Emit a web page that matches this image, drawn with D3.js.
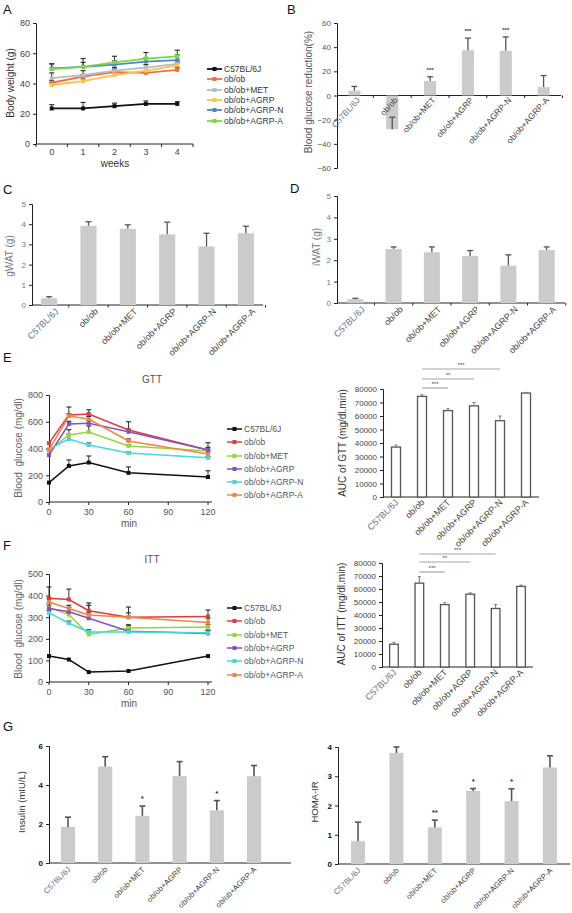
<!DOCTYPE html>
<html><head><meta charset="utf-8">
<script src="https://cdn.jsdelivr.net/npm/d3@7"></script>
<style>body{margin:0;background:#fff}svg{font-family:"Liberation Sans",Arial,sans-serif}</style>
</head><body><svg id="c" width="572" height="913"></svg>
<script>
// ---------- DATA ----------
const groups = ["C57BL/6J","ob/ob","ob/ob+MET","ob/ob+AGRP","ob/ob+AGRP-N","ob/ob+AGRP-A"];
// A: body weight
const weeks = [0,1,2,3,4];
const bwMean = [
  [23.5,23.5,25,26.5,26.5],
  [40.5,44.5,47.5,47,49],
  [43.5,45.5,48.5,50.5,53],
  [39,41.5,45.5,48.5,52],
  [50,51,52.5,54.5,55.5],
  [49.5,51,54,56.5,58]];
const bwErr = [
  [2.5,4,2,2,1.5],
  [1.5,1.5,2,1.5,1.5],
  [3.5,3,2,2,2],
  [1.5,1.5,2,2,1.5],
  [3,3,2.5,2.5,3.5],
  [3.5,5.5,4,4,4]];
// B: blood glucose reduction
const bgRed = [4,-28,12,37.5,37,7];
const bgRedErr = [3.5,10,3.5,10,11.5,9.5];
const bgRedSig = ["","","***","***","***",""];
// C, D
const gwat = [0.33,3.92,3.77,3.5,2.9,3.55];
const gwatErr = [0.08,0.2,0.2,0.6,0.65,0.35];
const iwat = [0.18,2.52,2.37,2.2,1.75,2.47];
const iwatErr = [0.04,0.1,0.25,0.25,0.5,0.15];
// E: GTT
const times = [0,15,30,60,120];
const gttMean = [
  [145,270,295,218,187],
  [440,650,658,538,389],
  [385,501,523,419,381],
  [351,583,588,525,389],
  [395,471,426,366,330],
  [389,643,620,456,359]];
const gttErr = [
  [0,44,49,44,47],
  [0,60,32,62,54],
  [0,40,45,10,10],
  [0,20,20,20,20],
  [0,35,15,10,10],
  [0,15,20,15,15]];
const gttAuc = [37000,74500,64000,67500,56500,77000];
const gttAucErr = [1500,1200,1500,2500,3500,500];
// F: ITT
const ittMean = [
  [120,104,46,51,120],
  [388,382,330,300,303],
  [345,312,220,250,255],
  [340,325,295,235,225],
  [320,272,232,232,228],
  [370,340,310,300,275]];
const ittErr = [
  [0,0,0,0,0],
  [52,48,36,47,30],
  [20,10,10,10,10],
  [15,20,60,30,15],
  [10,10,10,10,10],
  [15,15,10,20,20]];
const ittAuc = [17500,64500,48000,56000,45000,62000];
const ittAucErr = [1500,5000,1500,1000,3000,1000];
// significance brackets (from ob/ob to group)
const sigTargets = ["ob/ob+MET","ob/ob+AGRP","ob/ob+AGRP-N"];
const sigLabels = ["***","**","***"];
// G
const insulin = [1.85,4.95,2.42,4.45,2.7,4.45];
const insulinErr = [0.5,0.5,0.5,0.75,0.5,0.55];
const insulinSig = ["","","*","","*",""];
const homa = [0.78,3.8,1.25,2.5,2.15,3.3];
const homaErr = [0.65,0.2,0.25,0.08,0.42,0.4];
const homaSig = ["","","**","*","*",""];
// tick values
const bwTicks = [0,20,40,60,80];
const bgRedTicks = [-60,-40,-20,0,20,40,60];
const watTicks = [0,1,2,3,4,5];
const gttTicks = [0,200,400,600,800];
const ittTicks = [0,100,200,300,400,500];
const timeTicks = [0,30,60,90,120];
const aucTicks = [0,10000,20000,30000,40000,50000,60000,70000,80000];
const insTicks = [0,2,4,6];
const homaTicks = [0,1,2,3,4];

const colorsA = ["#111","#f0703c","#b4bcc4","#ffc24a","#4f86c6","#78d840"];
const colorsE = ["#111","#dc3c3c","#96d43c","#8450c4","#44d8dc","#f4843c"];

// ---------- HELPERS ----------
const svg = d3.select("#c");
function txt(x,y,s,o={}){
  const t = svg.append("text").attr("x",x).attr("y",y).text(s)
    .attr("font-size",o.size||9).attr("fill",o.fill||"#333")
    .attr("text-anchor",o.anchor||"start");
  if(o.rot!==undefined) t.attr("transform",`rotate(${o.rot},${x},${y})`);
  if(o.weight) t.attr("font-weight",o.weight);
  if(o.pre) t.style("white-space","pre");
  return t;
}
function yAxis(x,y,ticks,o={}){
  const g = svg.append("g").attr("transform",`translate(${x},0)`)
    .call(d3.axisLeft(y).tickValues(ticks).tickSize(3).tickPadding(o.pad||3).tickFormat(d3.format("d")));
  g.select(".domain").attr("stroke","#222");
  g.selectAll(".tick line").attr("stroke","#222");
  g.selectAll("text").attr("font-size",o.size||8.5).attr("fill",o.fill||"#444")
    .attr("font-family","Liberation Sans, Arial, sans-serif").attr("font-weight",o.weight||null);
  return g;
}
function lineChart(o){
  const x = d3.scaleLinear().domain(o.xDomain).range(o.xRange);
  const y = d3.scaleLinear().domain(o.yDomain).range(o.yRange);
  yAxis(o.xRange0 ?? x.range()[0], y, o.yTicks, {size:o.tickSize||9, fill:o.tickFill});
  const yb = y.range()[0];
  svg.append("line").attr("x1",o.axisX0).attr("x2",o.axisX1).attr("y1",yb).attr("y2",yb).attr("stroke","#222");
  o.xTickMarks.forEach(v=>svg.append("line").attr("x1",x(v)).attr("x2",x(v)).attr("y1",yb).attr("y2",yb+3).attr("stroke","#222"));
  o.xTicks.forEach(v=>txt(x(v),yb+(o.xLabOff||13),String(v),{size:o.tickSize||9,anchor:"middle",fill:o.tickFill||"#444"}));
  const line = d3.line().x((d,i)=>x(o.xs[i])).y(d=>y(d));
  o.means.forEach((m,si)=>{
    m.forEach((v,i)=>{
      const e=o.errs[si][i]; if(!e) return;
      const xx=x(o.xs[i]);
      svg.append("line").attr("x1",xx).attr("x2",xx).attr("y1",y(v)).attr("y2",y(v+e)).attr("stroke","#333").attr("stroke-width",1);
      svg.append("line").attr("x1",xx-2.5).attr("x2",xx+2.5).attr("y1",y(v+e)).attr("y2",y(v+e)).attr("stroke","#333").attr("stroke-width",1.2);
    });
  });
  o.means.forEach((m,si)=>{
    svg.append("path").attr("d",line(m)).attr("fill","none").attr("stroke",o.colors[si]).attr("stroke-width",o.lw||1.6);
    m.forEach((v,i)=>svg.append("rect").attr("x",x(o.xs[i])-2).attr("y",y(v)-2).attr("width",4).attr("height",4).attr("fill",o.colors[si]));
  });
  groups.forEach((gname,i)=>{
    const ly=o.legY[i];
    svg.append("line").attr("x1",o.legX).attr("x2",o.legX+15).attr("y1",ly).attr("y2",ly).attr("stroke",o.colors[i]).attr("stroke-width",o.lw||1.6);
    svg.append("rect").attr("x",o.legX+5.5).attr("y",ly-2).attr("width",4).attr("height",4).attr("fill",o.colors[i]);
    txt(o.legX+17,ly+3,gname,{size:8.5,fill:o.legFill||"#333"});
  });
  return {x,y};
}
function barChart(o){
  const x = d3.scaleBand().domain(groups).range(o.xRange).paddingInner(o.pi).paddingOuter(o.po);
  const y = d3.scaleLinear().domain(o.yDomain).range(o.yRange);
  yAxis(o.xRange[0], y, o.yTicks, {size:o.tickSize||8.5, fill:o.tickFill||"#555", weight:o.tickWeight});
  const y0 = y(0);
  svg.append("line").attr("x1",o.xRange[0]).attr("x2",o.axisEnd||o.xRange[1]).attr("y1",y0).attr("y2",y0).attr("stroke","#222");
  if(o.boundTicks){
    groups.forEach((gname,i)=>{ if(i===0) return;
      const bx = x(gname) - x.step()*x.paddingInner()/2;
      svg.append("line").attr("x1",bx).attr("x2",bx).attr("y1",y0).attr("y2",y0+2.5).attr("stroke","#222");
    });
    const bx = x(groups[5]) + x.bandwidth() + x.step()*x.paddingInner()/2;
    svg.append("line").attr("x1",bx).attr("x2",bx).attr("y1",y0).attr("y2",y0+2.5).attr("stroke","#222");
  }
  const bw = x.bandwidth();
  groups.forEach((gname,i)=>{
    const v=o.vals[i], e=o.errs[i], cx=x(gname)+bw/2;
    const top=Math.min(y(v),y0), h=Math.abs(y(v)-y0);
    if(o.outline){
      svg.append("rect").attr("x",x(gname)).attr("y",top).attr("width",bw).attr("height",h).attr("fill","#fff").attr("stroke","#555").attr("stroke-width",1.3);
    } else {
      svg.append("rect").attr("x",x(gname)).attr("y",top).attr("width",bw).attr("height",h).attr("fill",o.fill||"#c9ccc9");
    }
    const ec=o.errColor||"#555", cw=o.capW||3;
    svg.append("line").attr("x1",cx).attr("x2",cx).attr("y1",y(v)).attr("y2",y(v+e)).attr("stroke",ec).attr("stroke-width",o.errW||1.3);
    svg.append("line").attr("x1",cx-cw).attr("x2",cx+cw).attr("y1",y(v+e)).attr("y2",y(v+e)).attr("stroke",ec).attr("stroke-width",o.errW||1.3);
    if(o.sig && o.sig[i]) txt(cx,y(v+e)-5,o.sig[i],{size:o.sigSize||8,anchor:"middle",fill:"#333",weight:"bold"});
    const lx=cx+o.labDx, ly=y0+o.labDy;
    const t=txt(lx,ly,gname,{size:o.labSize||9,anchor:"end",rot:o.labRot||-45,fill:i===0?(o.firstFill||"#5f7387"):(o.labFill||"#444")});
    if(o.clip) t.attr("clip-path",`url(#${o.clip})`);
  });
  if(o.brackets){
    o.brackets.ys.forEach((yy,k)=>{
      const x1=x("ob/ob")+bw/2, x2=x(sigTargets[k])+bw/2;
      svg.append("line").attr("x1",x1).attr("x2",x2).attr("y1",yy).attr("y2",yy).attr("stroke","#9aa").attr("stroke-width",1.2);
      txt((x1+x2)/2,yy-2.5,sigLabels[k],{size:6,anchor:"middle",fill:"#444"});
    });
  }
  return {x,y};
}

const defs = svg.append("defs");
defs.append("clipPath").attr("id","clipCD").append("rect").attr("x",0).attr("y",0).attr("width",572).attr("height",351);

// ---------- PANEL LETTERS ----------
[["A",3,14],["B",287,14],["C",3,194],["D",290,193],["E",3,362],["F",3,550],["G",3,731]]
  .forEach(d=>txt(d[1],d[2],d[0],{size:13,fill:"#111"}));

// ---------- A ----------
lineChart({xDomain:[-0.5,4.5],xRange:[36,193],yDomain:[0,80],yRange:[144,23],yTicks:bwTicks,
  axisX0:36,axisX1:193,xTickMarks:[-0.5,0.5,1.5,2.5,3.5,4.5],xTicks:weeks,xs:weeks,xLabOff:11,
  means:bwMean,errs:bwErr,colors:colorsA,lw:1.8,legX:207,legY:[69,79,90,100,110,121],tickFill:"#444"});
txt(115,167,"weeks",{size:10,anchor:"middle",fill:"#333"});
txt(14,83,"Body weight (g)",{size:10,anchor:"middle",rot:-90,fill:"#333"});

// ---------- B ----------
barChart({xRange:[337,561],pi:0.68,po:0.3,yDomain:[-60,60],yRange:[168,23],yTicks:bgRedTicks,
  vals:bgRed,errs:bgRedErr,sig:bgRedSig,labDx:6,labDy:5,labRot:-48,labSize:8.5,boundTicks:true,sigSize:6,tickSize:8});
txt(312,92,"Blood glucose reduction(%)",{size:10,anchor:"middle",rot:-90,fill:"#555"});

// ---------- C ----------
barChart({xRange:[32,263],pi:0.59,po:0.23,yDomain:[0,5],yRange:[305,204],yTicks:watTicks,
  vals:gwat,errs:gwatErr,labDx:10,labDy:7,labSize:9,boundTicks:true,clip:"clipCD",tickFill:"#777",tickSize:8});
txt(13,256,"gWAT (g)",{size:10,anchor:"middle",rot:-90,fill:"#6f7e88"});

// ---------- D ----------
barChart({xRange:[337,565],pi:0.58,po:0.27,yDomain:[0,5],yRange:[303,196],yTicks:watTicks,
  vals:iwat,errs:iwatErr,labDx:10,labDy:7,labSize:9,boundTicks:true,clip:"clipCD",tickFill:"#777",tickSize:8});
txt(320,247,"iWAT (g)",{size:10,anchor:"middle",rot:-90,fill:"#6f7e88"});

// ---------- E ----------
txt(152,383,"GTT",{size:10,anchor:"middle",fill:"#555"});
lineChart({xDomain:[0,120],xRange:[49,208],yDomain:[0,800],yRange:[502,395],yTicks:gttTicks,
  axisX0:49,axisX1:212,xTickMarks:timeTicks,xTicks:timeTicks,xs:times,
  means:gttMean,errs:gttErr,colors:colorsE,lw:1.5,legX:227,legY:[429,442,456,469,482,495],tickFill:"#555",legFill:"#555"});
txt(129,527,"min",{size:10,anchor:"middle",fill:"#555"});
txt(22,448,"Blood  glucose (mg/dl)",{size:10,anchor:"middle",rot:-90,fill:"#666",pre:true});

barChart({xRange:[383,539],pi:0.654,po:0.327,yDomain:[0,80000],yRange:[497,389],yTicks:aucTicks,
  vals:gttAuc,errs:gttAucErr,outline:true,errColor:"#777",errW:1,capW:1.5,labDx:3,labDy:6,labSize:9,
  tickSize:8,tickFill:"#444",brackets:{ys:[388,379,369]}});
txt(346,443,"AUC of GTT (mg/dl.min)",{size:10,anchor:"middle",rot:-90,fill:"#333"});

// ---------- F ----------
txt(152,563,"ITT",{size:10,anchor:"middle",fill:"#555"});
lineChart({xDomain:[0,120],xRange:[49,208],yDomain:[0,500],yRange:[682,574],yTicks:ittTicks,
  axisX0:49,axisX1:212,xTickMarks:timeTicks,xTicks:timeTicks,xs:times,
  means:ittMean,errs:ittErr,colors:colorsE,lw:1.5,legX:227,legY:[608,621,635,648,661,675],tickFill:"#555",legFill:"#555"});
txt(129,707,"min",{size:10,anchor:"middle",fill:"#555"});
txt(22,629,"Blood  glucose (mg/dl)",{size:10,anchor:"middle",rot:-90,fill:"#666",pre:true});

barChart({xRange:[382,533],pi:0.66,po:0.3,yDomain:[0,80000],yRange:[667,563],yTicks:aucTicks,
  vals:ittAuc,errs:ittAucErr,outline:true,errColor:"#777",errW:1,capW:1.5,labDx:3,labDy:6,labSize:9,
  tickSize:8,tickFill:"#444",brackets:{ys:[572,562,554]}});
txt(345,614,"AUC of ITT (mg/dl.min)",{size:10,anchor:"middle",rot:-90,fill:"#333"});

// ---------- G ----------
barChart({xRange:[49,273],pi:0.62,po:0.32,axisEnd:291,yDomain:[0,6],yRange:[863,746],yTicks:insTicks,
  vals:insulin,errs:insulinErr,sig:insulinSig,labDx:3,labDy:7,labSize:7.8,tickSize:8,tickFill:"#111",tickWeight:"bold",
  errColor:"#555",errW:1.6,capW:3,sigSize:8});
txt(25,802,"Insulin (mIU/L)",{size:9.5,anchor:"middle",rot:-90,fill:"#333"});

barChart({xRange:[338,570],pi:0.635,po:0.34,yDomain:[0,4],yRange:[864,747],yTicks:homaTicks,
  vals:homa,errs:homaErr,sig:homaSig,labDx:3,labDy:7,labSize:7.8,tickSize:8,tickFill:"#111",tickWeight:"bold",
  errColor:"#555",errW:1.6,capW:3,sigSize:8});
txt(318,802,"HOMA-IR",{size:9.5,anchor:"middle",rot:-90,fill:"#333"});
</script></body></html>
